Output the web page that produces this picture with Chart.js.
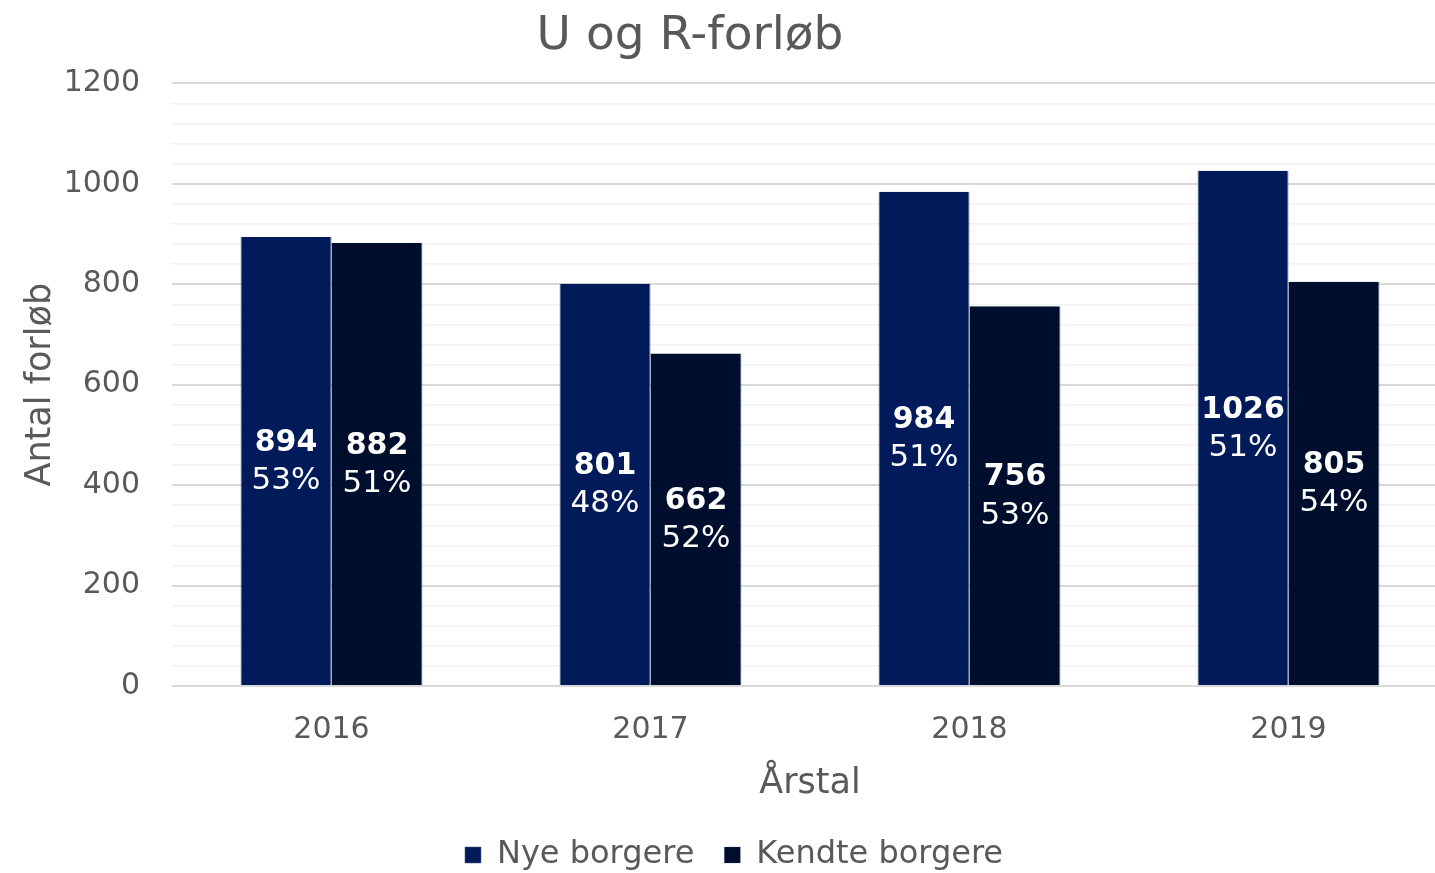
<!DOCTYPE html>
<html>
<head>
<meta charset="utf-8">
<script src="https://cdn.jsdelivr.net/npm/chart.js@4"></script>
<style>
  html, body { margin: 0; padding: 0; background: #fff; overflow: hidden; }
  /* plot runs a little past the right edge, like the original */
  .chart { width: 1448px; height: 873px; }
</style>
</head>
<body>
<div class="chart"><canvas id="forlobChart"></canvas></div>
<script>
const years = ['2016', '2017', '2018', '2019'];
const nyeBorgere = [894, 801, 984, 1026];
const kendteBorgere = [882, 662, 756, 805];
const nyePct = ['53%', '48%', '51%', '51%'];
const kendtePct = ['51%', '52%', '53%', '54%'];

const fontFamily = "'DejaVu Sans', sans-serif";
const textColor = '#595959';

// draws "value / pct" in the middle of each bar
const barLabels = {
  id: 'barLabels',
  afterDatasetsDraw(chart) {
    const ctx = chart.ctx;
    const pcts = [nyePct, kendtePct];
    chart.data.datasets.forEach((ds, i) => {
      const meta = chart.getDatasetMeta(i);
      meta.data.forEach((bar, j) => {
        const mid = (bar.y + bar.base) / 2;
        ctx.save();
        ctx.fillStyle = '#ffffff';
        ctx.textAlign = 'center';
        ctx.textBaseline = 'middle';
        ctx.font = `bold 30px ${fontFamily}`;
        ctx.fillText(String(ds.data[j]), bar.x, mid - 18);
        ctx.font = `31px ${fontFamily}`;
        ctx.fillText(pcts[i][j], bar.x, mid + 20);
        ctx.restore();
      });
    });
  }
};

// title sits a bit left of centre in the original
const shiftTitle = {
  id: 'shiftTitle',
  afterLayout(chart) {
    const t = chart.titleBlock;
    if (t) {
      t.left -= 44;
      t.right -= 44;
    }
  }
};

new Chart(document.getElementById('forlobChart'), {
  type: 'bar',
  data: {
    labels: years,
    datasets: [
      {
        label: 'Nye borgere',
        data: nyeBorgere,
        backgroundColor: '#001A5A',
        borderColor: '#4a5a80',
        borderWidth: { left: 1, right: 1, top: 0, bottom: 0 },
      },
      {
        label: 'Kendte borgere',
        data: kendteBorgere,
        backgroundColor: '#000E2E',
        borderColor: '#4a5a80',
        borderWidth: { left: 0, right: 1, top: 0, bottom: 0 },
      },
    ],
  },
  options: {
    responsive: true,
    maintainAspectRatio: false,
    animation: false,
    categoryPercentage: 0.57,
    barPercentage: 1.0,
    layout: { padding: { left: 20, right: 0, top: 9, bottom: -8 } },
    plugins: {
      title: {
        display: true,
        text: 'U og R-forløb',
        color: textColor,
        font: { family: fontFamily, size: 47, weight: 'normal' },
        padding: { top: 0, bottom: 18 },
      },
      legend: {
        position: 'bottom',
        labels: {
          color: textColor,
          font: { family: fontFamily, size: 32 },
          boxWidth: 16,
          boxHeight: 16,
          padding: 30,
        },
      },
      tooltip: { enabled: false },
    },
    scales: {
      x: {
        grid: { display: false },
        border: { display: false },
        ticks: {
          color: textColor,
          font: { family: fontFamily, size: 30 },
          padding: 18,
        },
        title: {
          display: true,
          text: 'Årstal',
          color: textColor,
          font: { family: fontFamily, size: 35, lineHeight: 1 },
          padding: { top: 0, bottom: 8 },
        },
      },
      y: {
        min: 0,
        max: 1200,
        border: { display: false },
        afterFit: scale => { scale.width = 152; },
        grid: {
          color: ctx => (ctx.tick.value % 200 === 0 ? '#d9d9d9' : '#f2f2f2'),
          lineWidth: ctx => (ctx.tick.value % 200 === 0 ? 2 : 1.5),
          drawTicks: false,
        },
        ticks: {
          stepSize: 40,
          autoSkip: false,
          color: textColor,
          font: { family: fontFamily, size: 30 },
          padding: 32,
          callback: v => (v % 200 === 0 ? v : ''),
        },
        title: {
          display: true,
          text: 'Antal forløb',
          color: textColor,
          font: { family: fontFamily, size: 35 },
          padding: { top: 0, bottom: 4 },
        },
      },
    },
  },
  plugins: [barLabels, shiftTitle],
});
</script>
</body>
</html>
